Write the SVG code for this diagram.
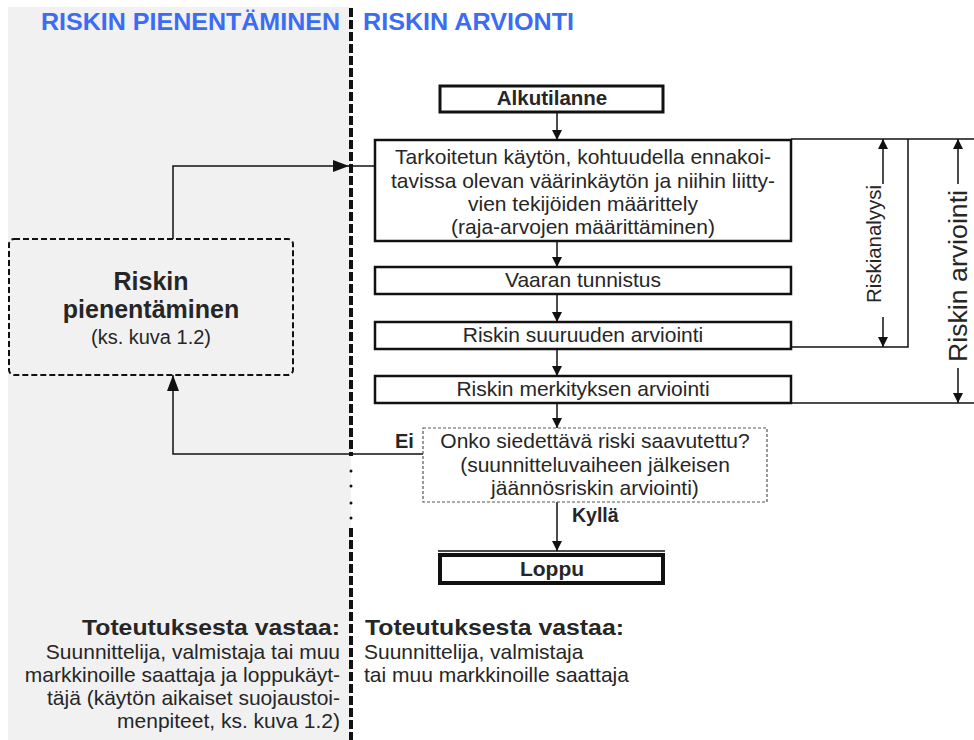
<svg xmlns="http://www.w3.org/2000/svg" width="974" height="740" viewBox="0 0 974 740">
<style>
text{font-family:"Liberation Sans",Arial,sans-serif;fill:#262626}
.h{font-weight:bold;font-size:24px;fill:#3b6cf2}
.b{font-weight:bold}
.box{fill:#fff;stroke:#111;stroke-width:2.5}
.t{font-size:21px;text-anchor:middle}
.c{fill:none;stroke:#111;stroke-width:1.5}
.foot{font-size:21px}
</style>
<defs>
<marker id="ah" markerWidth="10" markerHeight="10" refX="10" refY="5" orient="auto" markerUnits="userSpaceOnUse">
<path d="M0,0 L10,5 L0,10 z" fill="#111"/>
</marker>
<marker id="ah2" markerWidth="16" markerHeight="12" refX="16" refY="6" orient="auto" markerUnits="userSpaceOnUse">
<path d="M0,0 L16,6 L0,12 z" fill="#111"/>
</marker>
</defs>
<rect x="0" y="0" width="974" height="740" fill="#fff"/>
<rect id="bg-left" x="8" y="7" width="343" height="733" fill="#f1f1f1"/>

<g id="divider">
<line x1="351" y1="8" x2="351" y2="456" stroke="#111" stroke-width="4" stroke-dasharray="9 3"/>
<line x1="351" y1="528" x2="351" y2="740" stroke="#111" stroke-width="4" stroke-dasharray="9 3"/>
<circle cx="351" cy="471" r="1.5" fill="#111"/>
<circle cx="351" cy="486" r="1.5" fill="#111"/>
<circle cx="351" cy="503" r="1.5" fill="#111"/>
<circle cx="351" cy="518" r="1.5" fill="#111"/>
</g>

<g id="headers">
<text class="h" x="41" y="30" textLength="299" lengthAdjust="spacingAndGlyphs">RISKIN PIENENTÄMINEN</text>
<text class="h" x="363" y="30" textLength="211" lengthAdjust="spacingAndGlyphs">RISKIN ARVIONTI</text>
</g>

<g id="connectors">
<line class="c" x1="557" y1="113" x2="557" y2="140" marker-end="url(#ah)"/>
<line class="c" x1="557" y1="241" x2="557" y2="267" marker-end="url(#ah)"/>
<line class="c" x1="557" y1="294" x2="557" y2="322" marker-end="url(#ah)"/>
<line class="c" x1="557" y1="349" x2="557" y2="376" marker-end="url(#ah)"/>
<line class="c" x1="557" y1="403" x2="557" y2="428" marker-end="url(#ah)"/>
<line class="c" x1="557" y1="502" x2="557" y2="551" marker-end="url(#ah)"/>
<path class="c" d="M173,239 V166 H349" marker-end="url(#ah2)"/>
<line class="c" x1="349" y1="166" x2="376" y2="166"/>
<path class="c" d="M423,454 H173 V375" marker-end="url(#ah2)"/>
<path class="c" d="M791,139 H974"/>
<path class="c" d="M791,347 H908 V139"/>
<path class="c" d="M791,403 H974"/>
<line class="c" x1="883" y1="184" x2="883" y2="139" marker-end="url(#ah)"/>
<line class="c" x1="883" y1="317" x2="883" y2="347" marker-end="url(#ah)"/>
<line class="c" x1="958" y1="184" x2="958" y2="139" marker-end="url(#ah)"/>
<line class="c" x1="958" y1="368" x2="958" y2="403" marker-end="url(#ah)"/>
</g>

<g id="label-riskianalyysi">
<text transform="translate(881,244) rotate(-90)" font-size="20" text-anchor="middle" textLength="118" lengthAdjust="spacingAndGlyphs">Riskianalyysi</text>
</g>
<g id="label-riskin-arviointi">
<text transform="translate(967,276) rotate(-90)" font-size="25" text-anchor="middle" textLength="172" lengthAdjust="spacingAndGlyphs" fill="#111">Riskin arviointi</text>
</g>

<g id="alkutilanne">
<rect x="440" y="86" width="223" height="26" fill="#fff" stroke="#111" stroke-width="3"/>
<text class="b" x="552" y="105" font-size="20.5" text-anchor="middle">Alkutilanne</text>
</g>

<g id="maarittely">
<rect class="box" x="375" y="140" width="416" height="101"/>
<text class="t" x="583" y="164" font-size="20.5">Tarkoitetun käytön, kohtuudella ennakoi-</text>
<text class="t" x="583" y="188" font-size="20.5">tavissa olevan väärinkäytön ja niihin liitty-</text>
<text class="t" x="583" y="211" font-size="20.5">vien tekijöiden määrittely</text>
<text class="t" x="583" y="234" font-size="20.5">(raja-arvojen määrittäminen)</text>
</g>

<g id="vaaran-tunnistus">
<rect class="box" x="375" y="267" width="416" height="27"/>
<text class="t" x="583" y="287">Vaaran tunnistus</text>
</g>

<g id="riskin-suuruus">
<rect class="box" x="375" y="322" width="416" height="27"/>
<text class="t" x="583" y="342">Riskin suuruuden arviointi</text>
</g>

<g id="riskin-merkitys">
<rect class="box" x="375" y="376" width="416" height="27"/>
<text class="t" x="583" y="396">Riskin merkityksen arviointi</text>
</g>

<g id="paatos">
<rect x="423" y="428" width="344" height="74" fill="#fff" stroke="#555" stroke-width="1.2" stroke-dasharray="3 2"/>
<text class="t" x="595" y="448">Onko siedettävä riski saavutettu?</text>
<text class="t" x="595" y="472">(suunnitteluvaiheen jälkeisen</text>
<text class="t" x="595" y="495">jäännösriskin arviointi)</text>
</g>
<g id="label-ei"><text class="b" x="395" y="448" font-size="20">Ei</text></g>
<g id="label-kylla"><text class="b" x="572" y="522" font-size="19.5">Kyllä</text></g>

<g id="loppu">
<line x1="438" y1="551" x2="665" y2="551" stroke="#111" stroke-width="1.5"/>
<rect x="440" y="555" width="223" height="28" fill="#fff" stroke="#111" stroke-width="4"/>
<text class="b" x="552" y="576" font-size="21" text-anchor="middle">Loppu</text>
</g>

<g id="riskin-pienentaminen">
<rect x="9" y="239" width="284" height="136" rx="5" fill="none" stroke="#111" stroke-width="2" stroke-dasharray="6 3"/>
<text class="b" x="151" y="290" font-size="25" text-anchor="middle">Riskin</text>
<text class="b" x="151" y="318" font-size="25" text-anchor="middle">pienentäminen</text>
<text x="151" y="344" font-size="20" text-anchor="middle" fill="#444">(ks. kuva 1.2)</text>
</g>

<g id="vastuu-vasen">
<text class="b" x="340" y="635" font-size="22.5" text-anchor="end" textLength="258" lengthAdjust="spacingAndGlyphs" fill="#111">Toteutuksesta vastaa:</text>
<text class="foot" x="340" y="659" text-anchor="end">Suunnittelija, valmistaja tai muu</text>
<text class="foot" x="340" y="682" text-anchor="end">markkinoille saattaja ja loppukäyt-</text>
<text class="foot" x="340" y="705" text-anchor="end">täjä (käytön aikaiset suojaustoi-</text>
<text class="foot" x="340" y="728" text-anchor="end">menpiteet, ks. kuva 1.2)</text>
</g>

<g id="vastuu-oikea">
<text class="b" x="365" y="635" font-size="22.5" textLength="259" lengthAdjust="spacingAndGlyphs" fill="#111">Toteutuksesta vastaa:</text>
<text class="foot" x="364" y="659">Suunnittelija, valmistaja</text>
<text class="foot" x="364" y="682">tai muu markkinoille saattaja</text>
</g>
</svg>
